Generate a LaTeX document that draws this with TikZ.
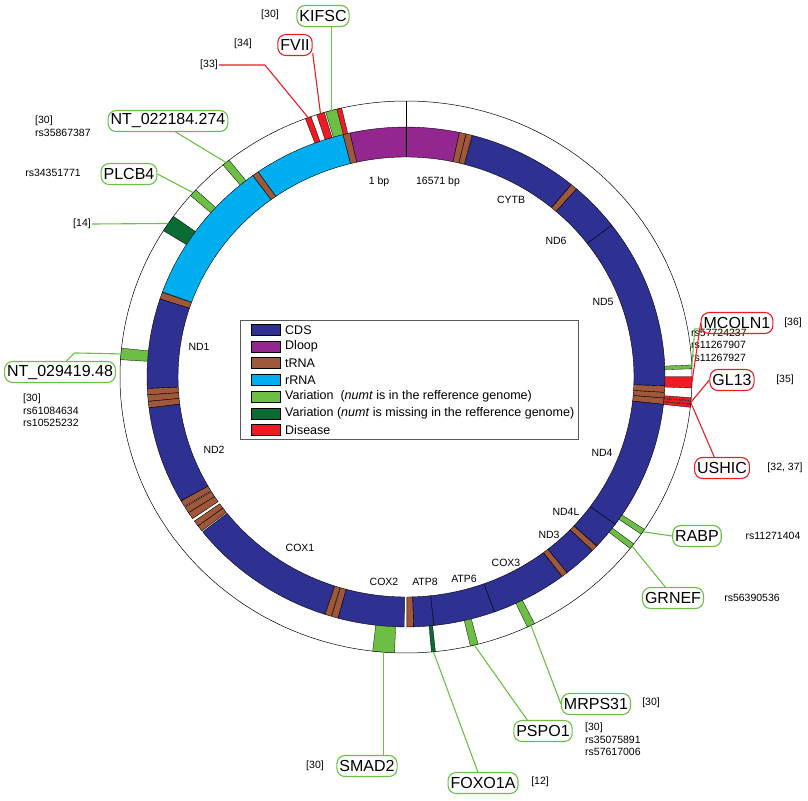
\documentclass[tikz,border=0pt]{standalone}
\usepackage{fontspec}
\setmainfont{Liberation Sans}
\usepackage{tikz}
\usetikzlibrary{positioning}

\definecolor{cds}{HTML}{2E3192}
\definecolor{dloop}{HTML}{93278F}
\definecolor{trna}{HTML}{A0583A}
\definecolor{rrna}{HTML}{00AEEF}
\definecolor{vgreen}{HTML}{6CBE45}
\definecolor{dgreen}{HTML}{0B6B35}
\definecolor{dis}{HTML}{ED1C24}

% genome segment: style, start bp, end bp
\newcommand{\gseg}[3]{%
  \pgfmathsetmacro\ga{(\the\numexpr -900-#2*3600/16571\relax)/10}%
  \pgfmathsetmacro\gb{(\the\numexpr -900-#3*3600/16571\relax)/10}%
  \filldraw[#1, draw=black, line width=.4pt] (\ga:259) arc[start angle=\ga, end angle=\gb, radius=259]
    -- (\gb:228) arc[start angle=\gb, end angle=\ga, radius=228] -- cycle;}
% variation marker: colour, angle, half width, name
\newcommand{\varmark}[4]{%
  \pgfmathsetmacro\ma{-(#2)-#3}\pgfmathsetmacro\mb{-(#2)+#3}\pgfmathsetmacro\mc{-(#2)}%
  \filldraw[#1, draw=black, line width=.3pt] (\ma:259) arc[start angle=\ma, end angle=\mb, radius=259]
    -- (\mb:286) arc[start angle=\mb, end angle=\ma, radius=286] -- cycle;
  \coordinate (#4) at (\mc:286);}

\tikzset{
  gene/.style={font=\fontsize{10.5}{12}\selectfont, inner sep=1pt},
  ref/.style={font=\fontsize{10.5}{12.5}\selectfont, inner sep=1pt, align=left},
  oval/.style={draw, rounded corners=8pt, line width=1.1pt, font=\fontsize{16}{18}\selectfont, inner sep=2.5pt, minimum height=21pt},
  voval/.style={oval, draw=vgreen},
  doval/.style={oval, draw=dis},
  vline/.style={vgreen, line width=1.1pt},
  dline/.style={dis, line width=1.1pt},
  swatch/.style={draw=black, line width=.3pt, minimum width=29pt, minimum height=11pt, inner sep=0pt},
  legtext/.style={font=\fontsize{12.5}{14}\selectfont, anchor=west, inner sep=1pt}
}

\begin{document}
\begin{tikzpicture}[x=1pt, y=-1pt]
  \useasboundingbox (0,0) rectangle (808,800);

  \begin{scope}[shift={(406,377)}, yscale=0.965]
    \draw[line width=.5pt] (0,0) circle[radius=286];
    % ring
    \gseg{dloop}{16024}{16571}
    \gseg{dloop}{0}{576}
    \foreach \s/\e in {577/647,1602/1670,3230/3304,4263/4331,4332/4400,4402/4469,5512/5579,5587/5655,
      5657/5729,5761/5826,5826/5891,7446/7514,7518/7585,8295/8364,9991/10058,10405/10469,
      12138/12206,12207/12265,12266/12336,14674/14742,15888/15953,15956/16023}
      {\gseg{trna}{\s}{\e}}
    \gseg{rrna}{648}{1601}
    \gseg{rrna}{1671}{3229}
    \foreach \s/\e in {3307/4262,4470/5511,5904/7445,7586/8269,8366/8572,8572/9207,9207/9990,
      10059/10404,10470/10766,10766/12137,12337/14148,14149/14673,14747/15887}
      {\gseg{cds}{\s}{\e}}
    \draw[line width=.5pt] (-90:228) -- (-90:286);
    % variations
    \varmark{dis}{110}{0.6}{m33}
    \varmark{dis}{107.4}{0.8}{mFV}
    \varmark{vgreen}{105.1}{1.2}{mKI}
    \varmark{dis}{103.5}{0.5}{mFV2}
    \varmark{vgreen}{129}{0.8}{mNTa}
    \varmark{vgreen}{138.1}{0.8}{mPL}
    \varmark{dgreen}{146.2}{1.8}{m14}
    \varmark{vgreen}{175.2}{1.2}{mNTb}
    \varmark{vgreen}{2.1}{0.4}{mRS}
    \varmark{dis}{-1.1}{1.2}{mGL}
    \varmark{dis}{-4.6}{0.3}{mUSa}
    \varmark{dis}{-5.3}{0.3}{mUS}
    \varmark{dis}{-6.0}{0.3}{mUSb}
    \varmark{vgreen}{-34.1}{0.6}{mRA}
    \varmark{vgreen}{-37.8}{0.6}{mGR}
    \varmark{vgreen}{-94.5}{2.2}{mSM}
    \varmark{dgreen}{-84.5}{0.4}{mFO}
    \varmark{vgreen}{-76.2}{0.8}{mPS}
    \varmark{vgreen}{-64.1}{0.8}{mMR}
  \end{scope}

  % ring labels
  \node[gene] (bp1) at (379,182) {1 bp};
  \node[gene] (bpn) at (438,182) {16571 bp};
  \node[gene] (cytb) at (511,200) {CYTB};
  \node[gene] (nd6) at (556,241) {ND6};
  \node[gene] (nd5) at (603,302) {ND5};
  \node[gene] (nd4) at (602,453) {ND4};
  \node[gene] (nd4l) at (566,512) {ND4L};
  \node[gene] (nd3) at (549,535) {ND3};
  \node[gene] (cox3) at (506,563) {COX3};
  \node[gene] (atp6) at (464,579) {ATP6};
  \node[gene] (atp8) at (425,582) {ATP8};
  \node[gene] (cox2) at (384,582) {COX2};
  \node[gene] (cox1) at (300,548) {COX1};
  \node[gene] (nd2) at (214,450) {ND2};
  \node[gene] (nd1) at (199,347) {ND1};

  % legend
  \draw[gray!70!black, line width=.6pt] (240,320) rectangle (578,439);
  \foreach \c/\t [count=\i] in {cds/CDS, dloop/Dloop, trna/tRNA, rrna/rRNA,
    vgreen/{Variation\ \ (\textit{numt} is in the refference genome)},
    dgreen/{Variation (\textit{numt} is missing in the refference genome)}, dis/Disease}
  {
    \node[swatch, fill=\c] (sw\i) at (266,313+16.7*\i) {};
    \node[legtext] (lt\i) at (284,313+16.7*\i) {\t};
  }

  % top labels
  \node[voval] (kifsc) at (323,16) {KIFSC};
  \node[ref] (rKI) at (270,15) {[30]};
  \node[doval] (fvii) at (295,45) {FVII};
  \node[ref] (rFV) at (243,44) {[34]};
  \node[ref] (r33) at (209,65) {[33]};
  \node[voval] (ntA) at (168,121) {NT\_022184.274};
  \node[ref, anchor=west] (rNTa) at (34,126) {[30]\\rs35867387};
  \node[voval] (plcb) at (129,174) {PLCB4};
  \node[ref] (rPL) at (53,173) {rs34351771};
  \node[ref] (r14) at (82,224) {[14]};
  \node[voval] (ntB) at (60,372) {NT\_029419.48};
  \node[ref, anchor=north west] (rNTb) at (22,393) {[30]\\rs61084634\\rs10525232};

  \draw[vline] (mKI) -- (mKI |- kifsc.south);
  \draw[dline] (mFV) -- (fvii.-25);
  \draw[dline] (r33.east) -- ++(46,0) -- (m33);
  \draw[vline] (mNTa) -- (ntA.-55);
  \draw[vline] (mPL) -- (plcb.east);
  \draw[vline] (r14.east) -- (m14);
  \draw[vline] (ntB.60) -- ++(8,-8) -- (mNTb);

  % right labels
  \node[ref, anchor=west] (rRS) at (690,345) {rs57724237\\rs11267907\\rs11267927};
  \node[doval] (mcoln) at (737,323) {MCOLN1};
  \node[ref] (rMC) at (793,323) {[36]};
  \node[doval] (gl) at (732,380) {GL13};
  \node[ref] (rGL) at (785,380) {[35]};
  \node[doval] (ushic) at (722,468) {USHIC};
  \node[ref] (rUS) at (785,468) {[32, 37]};
  \node[voval] (rabp) at (697,536) {RABP};
  \node[ref] (rRA) at (773,536) {rs11271404};
  \node[voval] (grnef) at (673,598) {GRNEF};
  \node[ref] (rGR) at (752,598) {rs56390536};

  \draw[vline] (mRS) -- ++(3,-38) -- ++(6,0);
  \draw[dline] (mGL) -- (mcoln.west);
  \draw[dline] (mUS) -- (gl.west);
  \draw[dline] (mUS) -- (ushic.125);
  \draw[vline] (mRA) -- (rabp.west);
  \draw[vline] (mGR) -- (grnef.125);

  % bottom labels
  \node[voval] (smad) at (367,766) {SMAD2};
  \node[ref] (rSM) at (315,766) {[30]};
  \node[voval] (foxo) at (483,783) {FOXO1A};
  \node[ref] (rFO) at (540,782) {[12]};
  \node[voval] (pspo) at (543,731) {PSPO1};
  \node[ref, anchor=north west] (rPS) at (584,722) {[30]\\rs35075891\\rs57617006};
  \node[voval] (mrps) at (596,704) {MRPS31};
  \node[ref] (rMR) at (651,703) {[30]};

  \draw[vline] (mSM) -- (mSM |- smad.north);
  \draw[vline] (mFO) -- (foxo.115);
  \draw[vline] (mPS) -- (pspo.145);
  \draw[vline] (mMR) -- (mrps.west);
\end{tikzpicture}
\end{document}
